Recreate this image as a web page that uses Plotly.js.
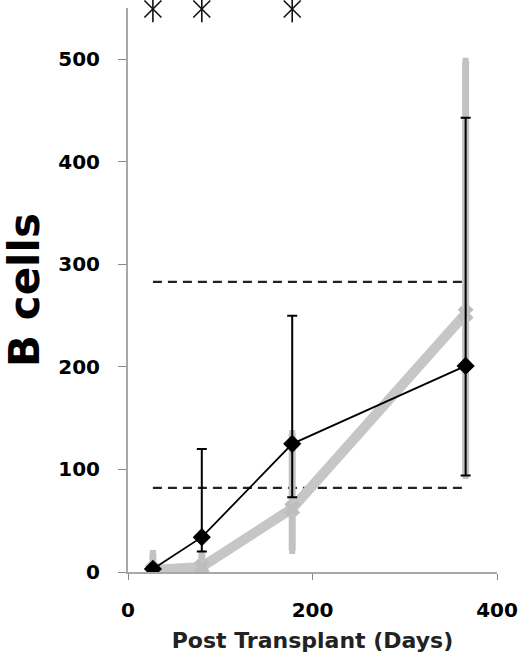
<!DOCTYPE html>
<html><head><meta charset="utf-8">
<script src="https://cdn.plot.ly/plotly-3.0.1.min.js"></script>
<style>html,body{margin:0;padding:0;background:#fff}#chart{width:520px;height:666px}</style>
</head><body><div id="chart"></div>
<script>
// Days post transplant
const days = [27, 80, 178, 366];
// Black series (diamonds)
const blackVals = [3, 34, 125, 201];
const blackErrPlus = [0, 86, 125, 242];
const blackErrMinus = [0, 14, 52, 107];
// Gray series (thick line)
const grayVals = [2, 5, 62, 252];
const grayErrPlus = [16, 13, 73, 246];
const grayErrMinus = [2, 5, 41, 158];
// Normal range reference lines
const rangeDays = [27, 366];
const normalLow = [82, 82];
const normalHigh = [283, 283];
// Significance asterisks
const sigDays = [27, 80, 178];
const sigLevel = [549, 549, 549];

const tickFont = {family: 'DejaVu Sans', size: 20, color: '#000', weight: 'bold'};

const traces = [
  {x: rangeDays, y: normalHigh, mode: 'lines', line: {color: '#222', width: 2.2, dash: '9px,6px'}, hoverinfo: 'skip'},
  {x: rangeDays, y: normalLow, mode: 'lines', line: {color: '#222', width: 2.2, dash: '9px,6px'}, hoverinfo: 'skip'},
  {x: days, y: grayVals, mode: 'lines+markers',
   line: {color: '#c6c6c6', width: 10},
   marker: {symbol: 'x', size: 14, color: '#bdbdbd'},
   error_y: {type: 'data', symmetric: false, array: grayErrPlus, arrayminus: grayErrMinus, color: '#c2c2c2', thickness: 7, width: 3}},
  {x: days, y: blackVals, mode: 'lines+markers',
   line: {color: '#000', width: 1.8},
   marker: {symbol: 'diamond', size: 14, color: '#000'},
   error_y: {type: 'data', symmetric: false, array: blackErrPlus, arrayminus: blackErrMinus, color: '#000', thickness: 2, width: 5}},
  {x: sigDays, y: sigLevel, mode: 'markers', cliponaxis: false,
   marker: {symbol: 'x-thin-open', size: 17, color: '#111', line: {color: '#111', width: 1.6}}},
  {x: sigDays, y: sigLevel, mode: 'markers', cliponaxis: false,
   marker: {symbol: 'line-ns-open', size: 19, color: '#111', line: {color: '#111', width: 1.6}}}
];

const layout = {
  width: 520, height: 666,
  margin: {l: 128, r: 23, t: 8, b: 94},
  showlegend: false,
  paper_bgcolor: '#fff', plot_bgcolor: '#fff',
  xaxis: {
    range: [0, 400], tickvals: [0, 200, 400], ticktext: ['0', '200', '400'],
    showgrid: false, zeroline: false,
    showline: true, linecolor: '#a8a8a8', linewidth: 2,
    ticks: 'outside', ticklen: 6, tickcolor: '#888', tickwidth: 1,
    ticklabelstandoff: 13,
    tickfont: tickFont,
    title: {text: 'Post Transplant (Days)', font: {family: 'DejaVu Sans', size: 22, color: '#222', weight: 'bold'}, standoff: 12}
  },
  yaxis: {
    range: [0, 550], tickvals: [0, 100, 200, 300, 400, 500],
    showgrid: false, zeroline: false,
    showline: true, linecolor: '#a8a8a8', linewidth: 2,
    ticks: 'outside', ticklen: 8, tickcolor: '#888', tickwidth: 1,
    ticklabelstandoff: 14,
    tickfont: tickFont,
    title: {text: 'B cells', font: {family: 'DejaVu Sans', size: 42, color: '#000', weight: 'bold'}, standoff: 12}
  }
};

Plotly.newPlot('chart', traces, layout, {displayModeBar: false, staticPlot: true});
</script></body></html>
